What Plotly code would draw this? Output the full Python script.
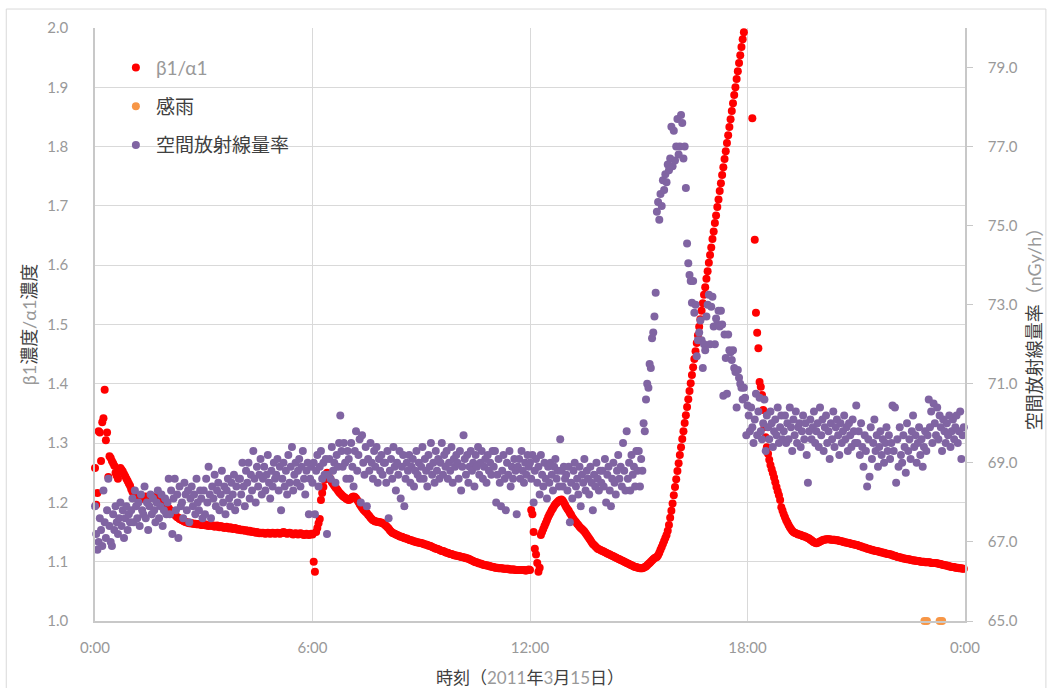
import numpy as np
import plotly.graph_objects as go

# β1/α1 concentration ratio, one reading every 2 minutes from 0:00 (None = no reading)
ratio = [
    # 0h
    1.258, 1.196, 1.216, 1.320, 1.318, 1.270, 1.335, 1.342, 1.390, 1.305, 1.318, 1.243, 1.278, 1.275, 1.270,
    1.266, 1.262, 1.250, 1.245, 1.240, 1.256, 1.258, 1.255, 1.252, 1.248, 1.244, 1.240, 1.236, 1.232, 1.228,
    # 1h
    1.222, 1.218, 1.215, 1.212, 1.209, 1.207, 1.206, 1.205, 1.206, 1.207, 1.208, 1.209, 1.210, 1.209, 1.208,
    1.207, 1.208, 1.209, 1.210, 1.209, 1.208, 1.207, 1.206, 1.208, 1.209, 1.207, 1.204, 1.200, 1.196, 1.193,
    # 2h
    1.192, 1.190, 1.187, 1.185, 1.183, 1.181, 1.179, 1.177, 1.175, 1.174, 1.172, 1.171, 1.170, 1.169, 1.168,
    1.167, 1.166, 1.166, 1.165, 1.165, 1.165, 1.164, 1.164, 1.164, 1.163, 1.163, 1.163, 1.163, 1.162, 1.162,
    # 3h
    1.162, 1.163, 1.161, 1.162, 1.160, 1.161, 1.162, 1.160, 1.161, 1.159, 1.160, 1.161, 1.159, 1.158, 1.160,
    1.158, 1.159, 1.157, 1.158, 1.159, 1.157, 1.156, 1.158, 1.157, 1.155, 1.156, 1.157, 1.155, 1.154, 1.155,
    # 4h
    1.154, 1.153, 1.154, 1.153, 1.152, 1.153, 1.152, 1.151, 1.152, 1.151, 1.150, 1.151, 1.150, 1.149, 1.150,
    1.149, 1.148, 1.149, 1.148, 1.149, 1.148, 1.147, 1.148, 1.149, 1.148, 1.147, 1.148, 1.149, 1.148, 1.147,
    # 5h
    1.148, 1.149, 1.148, 1.147, 1.148, 1.149, 1.150, 1.149, 1.148, 1.147, 1.148, 1.149, 1.148, 1.147, 1.146,
    1.147, 1.148, 1.147, 1.146, 1.147, 1.148, 1.147, 1.146, 1.145, 1.146, 1.147, 1.146, 1.145, 1.146, 1.147,
    # 6h
    1.146, 1.100, 1.083, 1.150, 1.157, 1.165, 1.172, 1.204, 1.216, 1.226, 1.238, 1.246, 1.250, 1.247, 1.242,
    1.238, 1.234, 1.231, 1.228, 1.225, 1.223, 1.220, 1.217, 1.215, 1.213, 1.211, 1.209, 1.208, 1.206, 1.205,
    # 7h
    1.204, 1.205, 1.207, 1.209, 1.210, 1.209, 1.207, 1.204, 1.201, 1.197, 1.194, 1.191, 1.188, 1.186, 1.184,
    1.182, 1.179, 1.177, 1.174, 1.172, 1.170, 1.169, 1.168, 1.168, 1.167, 1.167, 1.166, 1.166, 1.165, 1.164,
    # 8h
    1.162, 1.160, 1.158, 1.156, 1.153, 1.151, 1.149, 1.148, 1.147, 1.146, 1.145, 1.144, 1.143, 1.142, 1.142,
    1.141, 1.140, 1.139, 1.139, 1.138, 1.137, 1.136, 1.136, 1.135, 1.134, 1.134, 1.133, 1.133, 1.132, 1.132,
    # 9h
    1.131, 1.131, 1.130, 1.129, 1.129, 1.128, 1.127, 1.127, 1.126, 1.125, 1.124, 1.123, 1.122, 1.122, 1.121,
    1.120, 1.119, 1.118, 1.118, 1.117, 1.116, 1.115, 1.115, 1.114, 1.113, 1.113, 1.112, 1.111, 1.111, 1.110,
    # 10h
    1.110, 1.109, 1.109, 1.108, 1.108, 1.107, 1.107, 1.106, 1.106, 1.105, 1.104, 1.103, 1.102, 1.101, 1.100,
    1.099, 1.099, 1.098, 1.097, 1.097, 1.096, 1.095, 1.095, 1.094, 1.094, 1.093, 1.093, 1.092, 1.092, 1.091,
    # 11h
    1.091, 1.090, 1.090, 1.090, 1.089, 1.089, 1.089, 1.089, 1.088, 1.088, 1.088, 1.088, 1.088, 1.087, 1.087,
    1.087, 1.087, 1.087, 1.086, 1.086, 1.086, 1.086, 1.086, 1.086, 1.086, 1.086, 1.085, 1.085, 1.086, 1.087,
    # 12h
    1.086, 1.187, 1.180, 1.150, 1.122, 1.112, 1.098, 1.083, 1.090, 1.145, 1.150, 1.155, 1.160, 1.165, 1.170,
    1.175, 1.179, 1.183, 1.187, 1.190, 1.194, 1.197, 1.199, 1.201, 1.203, 1.204, 1.205, 1.203, 1.200, 1.196,
    # 13h
    1.192, 1.189, 1.186, 1.182, 1.179, 1.175, 1.172, 1.169, 1.167, 1.164, 1.162, 1.159, 1.157, 1.155, 1.153,
    1.151, 1.148, 1.145, 1.142, 1.139, 1.136, 1.133, 1.130, 1.128, 1.126, 1.124, 1.122, 1.121, 1.120, 1.119,
    # 14h
    1.118, 1.117, 1.116, 1.115, 1.114, 1.113, 1.112, 1.111, 1.110, 1.109, 1.108, 1.107, 1.106, 1.105, 1.104,
    1.103, 1.102, 1.101, 1.100, 1.099, 1.098, 1.097, 1.096, 1.095, 1.094, 1.093, 1.092, 1.091, 1.091, 1.090,
    # 15h
    1.090, 1.089, 1.089, 1.089, 1.090, 1.091, 1.092, 1.094, 1.096, 1.098, 1.100, 1.102, 1.104, 1.106, 1.107,
    1.108, 1.111, 1.115, 1.120, 1.125, 1.130, 1.135, 1.140, 1.145, 1.152, 1.162, 1.174, 1.186, 1.198, 1.212,
    # 16h
    1.226, 1.239, 1.253, 1.266, 1.280, 1.293, 1.307, 1.320, 1.334, 1.347, 1.361, 1.374, 1.388, 1.401, 1.415,
    1.428, 1.442, 1.455, 1.469, 1.482, 1.496, 1.509, 1.523, 1.536, 1.550, 1.563, 1.577, 1.590, 1.604, 1.617,
    # 17h
    1.630, 1.644, 1.657, 1.671, 1.684, 1.698, 1.711, 1.725, 1.738, 1.752, 1.765, 1.779, 1.792, 1.806, 1.819,
    1.833, 1.846, 1.860, 1.873, 1.887, 1.900, 1.914, 1.927, 1.941, 1.954, 1.968, 1.981, 1.993, None, None,
    # 18h
    None, None, None, None, 1.848, None, 1.643, 1.520, 1.486, 1.460, 1.403, 1.395, 1.381, 1.356, 1.327,
    1.310, 1.293, 1.282, 1.272, 1.263, 1.256, 1.249, 1.242, 1.234, 1.226, 1.219, 1.212, 1.204, 1.192, 1.186,
    # 19h
    1.180, 1.175, 1.170, 1.166, 1.162, 1.158, 1.155, 1.152, 1.150, 1.149, 1.148, 1.147, 1.146, 1.146, 1.145,
    1.144, 1.143, 1.143, 1.142, 1.141, 1.140, 1.139, 1.137, 1.136, 1.134, 1.133, 1.132, 1.131, 1.132, 1.133,
    # 20h
    1.134, 1.135, 1.136, 1.137, 1.137, 1.138, 1.138, 1.138, 1.138, 1.137, 1.137, 1.137, 1.137, 1.136, 1.136,
    1.136, 1.135, 1.135, 1.134, 1.134, 1.133, 1.133, 1.132, 1.132, 1.131, 1.131, 1.130, 1.130, 1.129, 1.129,
    # 21h
    1.128, 1.128, 1.127, 1.126, 1.126, 1.125, 1.124, 1.124, 1.123, 1.122, 1.122, 1.121, 1.120, 1.120, 1.119,
    1.119, 1.118, 1.118, 1.117, 1.117, 1.116, 1.116, 1.115, 1.115, 1.114, 1.114, 1.113, 1.113, 1.112, 1.112,
    # 22h
    1.111, 1.110, 1.110, 1.109, 1.108, 1.108, 1.107, 1.107, 1.106, 1.106, 1.105, 1.105, 1.104, 1.104, 1.104,
    1.103, 1.103, 1.102, 1.102, 1.102, 1.101, 1.101, 1.101, 1.100, 1.100, 1.100, 1.100, 1.099, 1.099, 1.099,
    # 23h
    1.099, 1.099, 1.098, 1.098, 1.098, 1.098, 1.098, 1.097, 1.097, 1.096, 1.096, 1.095, 1.095, 1.094, 1.094,
    1.093, 1.093, 1.092, 1.092, 1.091, 1.091, 1.091, 1.090, 1.090, 1.090, 1.089, 1.089, 1.089, 1.088, 1.088,
]

# ambient gamma dose rate (nGy/h), one reading every 2 minutes from 0:00
dose = [
    # 0h
    67.9, 67.2, 66.8, 67.0, 67.6, 67.3, 66.9, 68.3, 67.5, 67.1, 67.8, 68.6, 67.4, 67.0, 66.9,
    67.7, 67.3, 67.9, 67.5, 67.2, 67.6, 68.0, 67.4, 67.8, 67.1, 67.6, 67.9, 67.3, 67.7, 67.5,
    # 1h
    67.8, 68.1, 67.5, 68.3, 67.9, 67.6, 68.0, 67.4, 68.2, 67.8, 67.7, 68.4, 67.6, 68.0, 67.3,
    67.9, 68.2, 67.7, 68.1, 67.8, 67.5, 68.0, 68.3, 67.6, 67.9, 68.2, 67.4, 67.8, 68.1, 67.7,
    # 2h
    68.0, 68.6, 67.7, 68.3, 67.2, 68.1, 68.6, 67.8, 68.2, 67.1, 68.4, 67.9, 68.0, 67.6, 68.5,
    68.2, 67.8, 68.3, 67.5, 68.1, 68.4, 67.9, 68.2, 67.7, 68.6, 68.0, 67.8, 68.3, 68.1, 67.6,
    # 3h
    68.3, 67.7, 68.6, 68.0, 68.9, 68.2, 67.6, 68.4, 68.1, 68.7, 67.9, 68.3, 68.5, 67.8, 68.2,
    68.8, 68.0, 68.4, 67.7, 68.3, 68.6, 68.1, 67.9, 68.5, 68.2, 68.7, 67.8, 68.4, 68.0, 68.6,
    # 4h
    68.6, 68.2, 69.0, 68.4, 67.9, 68.8, 68.5, 69.0, 68.1, 68.7, 68.3, 69.3, 68.6, 68.0, 68.9,
    68.4, 68.7, 69.1, 68.2, 68.6, 68.9, 68.3, 68.7, 69.2, 68.5, 68.1, 68.8, 68.4, 69.0, 68.6,
    # 5h
    68.7, 69.1, 68.3, 68.9, 67.8, 68.6, 69.0, 68.4, 68.8, 68.2, 69.2, 68.5, 68.9, 69.4, 68.3,
    68.7, 69.0, 68.5, 68.8, 69.1, 68.4, 68.9, 69.3, 68.6, 68.2, 68.8, 69.0, 67.7, 68.6, 68.9,
    # 6h
    68.5, 69.0, 67.7, 68.8, 69.2, 68.4, 68.9, 69.3, 68.6, 69.0, 68.7, 69.1, 67.2, 68.7, 69.1,
    68.6, 69.4, 68.8, 69.0, 68.5, 69.2, 68.9, 69.5, 70.2, 69.3, 68.9, 69.5, 69.0, 68.6, 69.3,
    # 7h
    69.1, 68.6, 69.5, 68.9, 68.4, 69.3, 69.8, 68.8, 69.2, 69.6, 68.0, 69.7, 69.0, 68.7, 69.4,
    67.9, 69.1, 68.8, 69.5, 69.0, 68.6, 69.3, 68.9, 69.4, 68.5, 69.1, 68.8, 69.2, 68.7, 69.0,
    # 8h
    69.0, 68.5, 69.3, 67.6, 68.8, 69.1, 68.6, 69.4, 68.9, 68.3, 69.0, 68.7, 69.3, 68.1, 68.9,
    69.2, 67.9, 68.6, 69.0, 68.8, 69.2, 68.5, 68.9, 69.1, 68.4, 68.8, 69.3, 68.7, 69.0, 68.6,
    # 9h
    68.9, 69.4, 68.6, 69.1, 68.8, 68.4, 69.2, 68.9, 69.5, 68.7, 69.0, 68.5, 69.3, 68.8, 69.1,
    68.6, 69.0, 69.5, 68.7, 69.2, 68.9, 69.3, 68.6, 69.0, 68.8, 69.4, 68.5, 69.1, 68.9, 69.2,
    # 10h
    69.0, 68.6, 69.3, 68.3, 68.9, 69.7, 69.1, 68.7, 69.2, 68.5, 68.9, 69.3, 68.8, 69.0, 68.4,
    69.2, 68.9, 69.4, 68.7, 69.0, 69.3, 68.6, 68.9, 69.1, 68.5, 69.2, 68.8, 69.0, 68.7, 69.3,
    # 11h
    68.9, 69.3, 68.0, 68.7, 69.1, 68.5, 67.9, 68.8, 69.2, 68.6, 67.8, 69.0, 68.7, 69.3, 68.4,
    68.9, 68.6, 69.1, 68.8, 67.7, 68.9, 69.1, 68.6, 69.3, 68.8, 68.5, 69.0, 68.7, 69.2, 68.9,
    # 12h
    69.0, 68.6, 69.2, 68.0, 68.8, 69.1, 68.5, 68.9, 68.2, 69.2, 68.7, 68.4, 69.0, 68.6, 68.1,
    68.9, 68.5, 69.0, 68.7, 68.3, 68.9, 69.1, 68.6, 68.8, 68.4, 69.6, 68.8, 68.4, 68.9, 68.6,
    # 13h
    68.7, 68.3, 68.9, 67.5, 68.5, 68.1, 68.8, 69.0, 68.4, 68.6, 68.2, 68.9, 67.9, 68.7, 68.5,
    69.1, 68.3, 68.8, 68.6, 68.2, 68.9, 68.5, 67.8, 68.7, 68.4, 69.0, 68.6, 68.3, 68.8, 68.5,
    # 14h
    68.8, 68.4, 69.1, 68.0, 68.7, 68.9, 68.3, 67.9, 68.6, 69.0, 68.5, 68.2, 68.8, 69.2, 68.6,
    68.9, 68.4, 69.5, 68.8, 68.3, 69.8, 68.6, 69.0, 68.3, 69.2, 68.7, 68.9, 68.4, 69.3, 68.8,
    # 15h
    69.3, 68.4, 69.1, 68.8, 70.0, 69.8, 70.6, 71.0, 70.9, 71.5, 71.4, 72.15, 72.3, 72.7, 73.3,
    75.35, 75.6, 75.15, 75.8, 75.5, 76.15, 75.9, 76.3, 76.1, 76.55, 76.4, 76.7, 77.5, 76.5, 77.4,
    # 16h
    76.65, 77.0, 77.7, 76.8, 77.0, 77.8, 77.6, 76.7, 77.0, 75.95, 74.55, 74.05, 73.75, 73.6, 73.05,
    73.6, 72.8, 73.0, 71.7, 72.1, 72.3, 72.6, 72.1, 71.4, 72.0, 71.85, 72.7, 73.0, 73.25, 72.0,
    # 17h
    72.95, 73.2, 72.45, 72.0, 72.65, 72.5, 72.85, 72.45, 72.85, 72.5, 70.7, 72.25, 71.65, 70.75, 72.25,
    71.85, 71.8, 71.6, 71.85, 71.4, 71.3, 70.4, 71.35, 71.15, 71.0, 70.9, 70.6, 70.9, 70.65, 69.7,
    # 18h
    70.45, 70.2, 69.8, 70.4, 69.9, 69.5, 70.1, 70.75, 69.7, 70.3, 70.65, 69.8, 69.6, 70.0, 70.6,
    69.3, 70.2, 69.9, 69.6, 70.3, 70.0, 69.4, 69.8, 70.1, 69.7, 70.4, 69.5, 69.9, 70.2, 69.6,
    # 19h
    69.8, 70.2, 69.5, 70.0, 69.6, 70.4, 69.9, 69.3, 70.1, 69.7, 70.3, 69.5, 69.9, 70.0, 69.4,
    69.8, 70.2, 69.6, 70.0, 69.2, 68.5, 69.8, 70.1, 69.6, 69.9, 70.3, 69.5, 69.8, 70.0, 69.4,
    # 20h
    70.4, 69.7, 70.1, 69.3, 69.9, 70.2, 69.5, 69.8, 69.1, 70.0, 69.6, 70.3, 69.4, 69.9, 70.1,
    69.7, 69.2, 70.0, 69.5, 69.8, 70.2, 69.6, 69.9, 69.3, 70.0, 69.7, 69.4, 70.1, 69.8, 69.5,
    # 21h
    70.45, 69.5, 69.8, 69.2, 70.0, 69.4, 68.9, 69.7, 69.3, 68.4, 69.6, 68.65, 69.9, 69.1, 69.5,
    70.1, 69.3, 69.7, 68.9, 69.4, 69.8, 69.2, 69.6, 69.0, 69.5, 69.9, 69.3, 69.7, 69.1, 69.5,
    # 22h
    70.45, 69.3, 70.4, 68.5, 69.6, 68.9, 69.9, 69.2, 69.0, 69.7, 69.4, 68.75, 70.0, 69.3, 69.6,
    69.1, 69.8, 70.2, 69.4, 69.7, 69.0, 69.5, 69.9, 69.2, 69.6, 68.9, 69.4, 69.8, 69.3, 69.7,
    # 23h
    70.6, 69.9, 70.3, 69.5, 70.5, 70.0, 69.7, 70.4, 69.6, 70.2, 69.9, 69.3, 70.1, 69.8, 69.5,
    70.0, 69.7, 70.2, 69.4, 69.8, 70.1, 69.6, 69.9, 70.2, 69.5, 69.8, 70.3, 69.1, 69.7, 69.9,
]

# rain sensor detections (hours), plotted on the baseline
rain_hours = [22.88, 22.95, 23.30, 23.37]
rain_level = [1.0, 1.0, 1.0, 1.0]

# time axis ticks
tick_hours = [0, 6, 12, 18, 24]
tick_labels = ["0:00", "6:00", "12:00", "18:00", "0:00"]

ratio_hours = np.arange(len(ratio)) * 2 / 60
dose_hours = np.arange(len(dose)) * 2 / 60

GRAY = "#999999"
DARK = "#404040"
FONT = "Lato, 'Noto Sans CJK JP', sans-serif"

fig = go.Figure()
fig.add_trace(go.Scatter(
    x=ratio_hours, y=ratio, mode="markers", cliponaxis=False,
    name=f'<span style="color:{GRAY}">β1/α1</span>', legendgroup="a",
    marker=dict(color="#FF0000", size=8),
))
fig.add_trace(go.Scatter(
    x=rain_hours, y=rain_level, mode="markers", cliponaxis=False,
    name="感雨", legendgroup="b",
    marker=dict(color="#F79646", size=8),
))
fig.add_trace(go.Scatter(
    x=dose_hours, y=dose, mode="markers", yaxis="y2", cliponaxis=False,
    name="空間放射線量率", legendgroup="c",
    marker=dict(color="#8064A2", size=8),
))

fig.update_layout(
    width=1051, height=688,
    margin=dict(l=95, r=86, t=28, b=67),
    paper_bgcolor="white", plot_bgcolor="white",
    font=dict(family=FONT, color=DARK, size=15),
    showlegend=True,
    legend=dict(
        x=0.024, y=0.965, xanchor="left", yanchor="top",
        bgcolor="rgba(0,0,0,0)", font=dict(size=19, color=DARK),
        traceorder="grouped", tracegroupgap=11, itemwidth=30,
    ),
    xaxis=dict(
        range=[0, 24], tickvals=tick_hours, ticktext=tick_labels,
        showgrid=True, gridcolor="#d9d9d9", gridwidth=1,
        showline=True, linecolor="#c8c8c8", linewidth=1.5,
        ticks="", ticklabelstandoff=12, zeroline=False, automargin=False,
        tickfont=dict(color=GRAY, size=15),
        title=dict(
            text=f'時刻（<span style="color:{GRAY}">2011</span>年<span style="color:{GRAY}">3</span>月'
                 f'<span style="color:{GRAY}">15</span>日）',
            font=dict(size=17, color=DARK), standoff=17,
        ),
    ),
    yaxis=dict(
        range=[1.0, 2.0], dtick=0.1, tickformat=".1f",
        showgrid=True, gridcolor="#d9d9d9", gridwidth=1,
        showline=True, linecolor="#c8c8c8", linewidth=1.5,
        ticks="", ticklabelstandoff=22, zeroline=False, automargin=False,
        tickfont=dict(color=GRAY, size=15),
        title=dict(
            text=f'<span style="color:{GRAY}">β1</span>濃度<span style="color:{GRAY}">/α1</span>濃度',
            font=dict(size=18, color=DARK), standoff=6,
        ),
    ),
    yaxis2=dict(
        overlaying="y", side="right", range=[65, 80],
        tickvals=[65, 67, 69, 71, 73, 75, 77, 79], tickformat=".1f",
        showgrid=False, zeroline=False, automargin=False,
        showline=True, linecolor="#c8c8c8", linewidth=1.5,
        ticks="outside", ticklen=6, tickcolor="#c8c8c8",
        ticklabelstandoff=12,
        tickfont=dict(color=GRAY, size=15),
        title=dict(
            text=f'空間放射線量率<span style="color:{GRAY}">（nGy/h）</span>',
            font=dict(size=18, color=DARK), standoff=12,
        ),
    ),
    shapes=[dict(
        type="rect", xref="paper", yref="paper",
        x0=-0.102, x1=1.093, y0=-0.12, y1=1.032,
        line=dict(color="#d9d9d9", width=1), layer="below",
    )],
)

fig.write_html("out.html")
